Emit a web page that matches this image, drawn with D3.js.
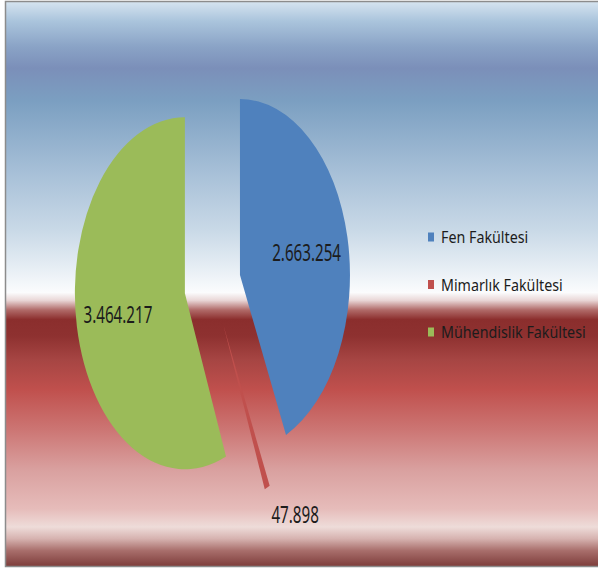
<!DOCTYPE html>
<html>
<head>
<meta charset="utf-8">
<script src="https://cdn.jsdelivr.net/npm/d3@7"></script>
<style>
  html, body { margin: 0; padding: 0; background: #fff; }
  svg { display: block; }
  text { font-family: "Noto Sans", "Open Sans", sans-serif; }
</style>
</head>
<body>
<div id="chart"></div>
<script>
// data
const faculties = ["Fen Fakültesi", "Mimarlık Fakültesi", "Mühendislik Fakültesi"];
const amounts = [2663254, 47898, 3464217];
const labels = ["2.663.254", "47.898", "3.464.217"];
const colors = ["#4f81bd", "#c0504d", "#9bbb59"];

// background bands (offset, colour)
const bgStops = [
    [0.000, "#d6e4f0"], [0.035, "#aac4dc"], [0.080, "#8aa3c6"], [0.118, "#7b8fb9"],
    [0.176, "#7b9fc1"], [0.300, "#a6bfd7"], [0.405, "#c9d9e7"], [0.475, "#e8eff5"],
    [0.515, "#fbfcfd"], [0.529, "#e9d6d6"], [0.546, "#b06a68"], [0.563, "#8b2e2d"],
    [0.592, "#8e3130"], [0.634, "#a64543"], [0.687, "#c0504d"], [0.757, "#cc7573"],
    [0.828, "#d9a09f"], [0.898, "#e6bcba"], [0.930, "#eedcd9"], [0.951, "#d6b2af"],
    [0.972, "#a86e6b"], [1.000, "#7d3c3a"]
];

const W = 598, H = 570;

const svg = d3.select("#chart")
    .append("svg")
    .attr("width", W)
    .attr("height", H)

const grad = svg.append("defs")
    .append("linearGradient")
    .attr("id", "bg")
    .attr("x1", 0).attr("y1", 0)
    .attr("x2", 0).attr("y2", 1)

grad.selectAll("stop")
    .data(bgStops)
    .join("stop")
    .attr("offset", d => d[0])
    .attr("stop-color", d => d[1])

svg.append("rect")
    .attr("x", 5.5)
    .attr("y", 1.5)
    .attr("width", W)
    .attr("height", 565)
    .attr("fill", "url(#bg)")
    .attr("stroke", "#8c8c8c")
    .attr("stroke-width", 1.5)

// pie, squashed horizontally like the picture
const cx = 212.5, cy = 284.7;
const R = 176, sx = 0.625, explode = 45;

const pie = d3.pie().sort(null).startAngle(0).endAngle(2 * Math.PI);
const arcs = pie(amounts);
const arc = d3.arc().innerRadius(0).outerRadius(R);

const mid = a => (a.startAngle + a.endAngle) / 2;
// point at radius r along slice middle, slice pushed out by explode
const at = (a, r) => {
    const m = mid(a);
    return [cx + sx * (explode + r) * Math.sin(m), cy - (explode + r) * Math.cos(m)];
};

const pieG = svg.append("g")
    .attr("transform", "translate(" + cx + "," + cy + ") scale(" + sx + ",1)")

pieG.selectAll("path")
    .data(arcs)
    .join("path")
    .attr("d", arc)
    .attr("fill", (d, i) => colors[i])
    .attr("transform", d => {
        const m = mid(d);
        return "translate(" + explode * Math.sin(m) + "," + (-explode * Math.cos(m)) + ")";
    })

// data labels
const fs = 23, lsx = 0.66;
arcs.forEach((a, i) => {
    let p, anchor, base;
    if (amounts[i] / d3.sum(amounts) < 0.05) {
        p = at(a, R + 17);
        anchor = "start";
        base = "hanging";
    } else {
        p = at(a, R * 0.62);
        anchor = "middle";
        base = "central";
    }
    svg.append("text")
        .attr("transform", "translate(" + p[0] + "," + p[1] + ") scale(" + lsx + ",1)")
        .attr("text-anchor", anchor)
        .attr("dominant-baseline", base)
        .attr("font-size", fs)
        .attr("fill", "#1c1c1c")
        .text(labels[i])
});

// legend
const ly = d3.scalePoint().domain(faculties).range([237, 332]);
const leg = svg.append("g").selectAll("g")
    .data(faculties)
    .join("g")
    .attr("transform", d => "translate(428," + ly(d) + ")")

leg.append("rect")
    .attr("x", 0)
    .attr("y", -4.5)
    .attr("width", 6)
    .attr("height", 9)
    .attr("fill", (d, i) => colors[i])

leg.append("text")
    .attr("transform", "translate(13,0) scale(0.84,1)")
    .attr("dominant-baseline", "central")
    .attr("font-size", 17)
    .attr("fill", "#1c1c1c")
    .text(d => d)
</script>
</body>
</html>
